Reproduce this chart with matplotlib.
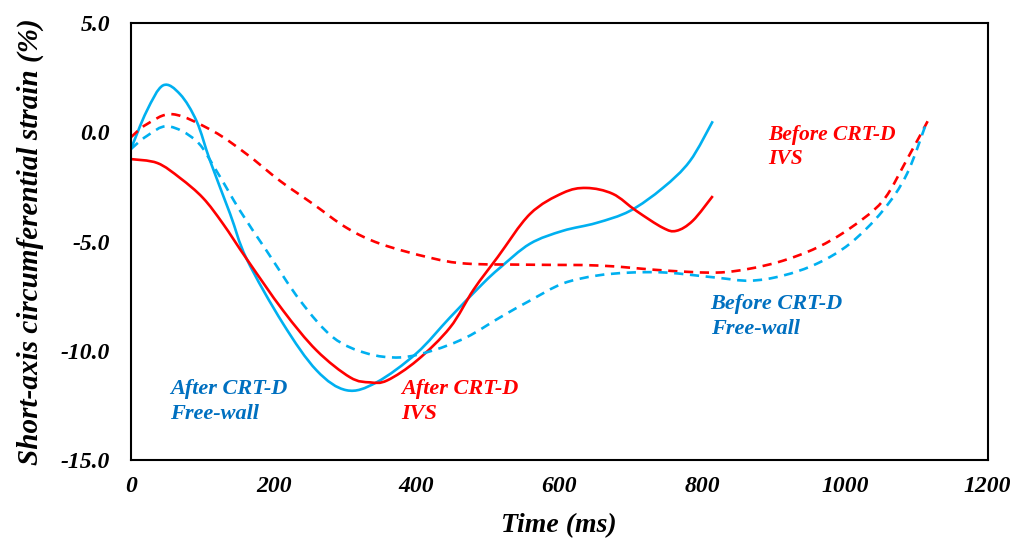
import numpy as np
import matplotlib.pyplot as plt
from matplotlib.path import Path
from matplotlib.patches import PathPatch

# After CRT-D, free-wall (solid blue)
t_after_fw = [0, 22, 45, 69, 92, 111, 139, 162, 213, 260, 302, 344, 400, 447, 493,
              517, 559, 605, 652, 699, 745, 783, 815]
v_after_fw = [-0.77, 0.96, 2.14, 1.73, 0.50, -1.32, -3.74, -5.79, -8.75, -10.89, -11.80,
              -11.44, -10.11, -8.47, -6.92, -6.20, -5.10, -4.51, -4.15, -3.60, -2.55, -1.32, 0.50]

# After CRT-D, IVS (solid red)
t_after_ivs = [0, 37, 69, 101, 129, 162, 213, 260, 307, 335, 359, 401, 447, 480, 514,
               559, 605, 638, 675, 708, 745, 764, 787, 815]
v_after_ivs = [-1.23, -1.41, -2.10, -3.01, -4.19, -5.79, -8.15, -9.98, -11.21, -11.44, -11.35,
               -10.43, -8.93, -7.20, -5.70, -3.74, -2.78, -2.55, -2.82, -3.60, -4.37, -4.51,
               -4.05, -2.92]

# Before CRT-D, IVS (dashed red)
t_before_ivs = [0, 22, 59, 115, 162, 209, 255, 302, 349, 419, 470, 559, 657, 750, 820,
                867, 913, 961, 1007, 1053, 1087, 1116]
v_before_ivs = [-0.23, 0.36, 0.82, 0.05, -1.00, -2.23, -3.28, -4.37, -5.10, -5.74, -6.01,
                -6.06, -6.10, -6.33, -6.42, -6.24, -5.88, -5.28, -4.40, -3.15, -1.25, 0.50]

# Before CRT-D, free-wall (dashed blue)
t_before_fw = [0, 22, 52, 92, 120, 153, 190, 237, 283, 330, 377, 423, 470, 517, 559,
               605, 652, 699, 750, 820, 867, 913, 961, 1007, 1053, 1087, 1115]
v_before_fw = [-0.77, -0.18, 0.27, -0.41, -1.78, -3.60, -5.42, -7.70, -9.38, -10.11, -10.30,
               -9.98, -9.38, -8.47, -7.70, -6.92, -6.56, -6.42, -6.42, -6.65, -6.79, -6.56,
               -6.01, -5.10, -3.60, -1.91, 0.50]

BLUE = '#00B0F0'
RED = '#FF0000'
TXT_BLUE = '#0070C0'

plt.rcParams['font.family'] = ['Liberation Serif', 'DejaVu Serif']


def smooth_line(ax, xs, ys, **kw):
    # Excel-like "smoothed line": cubic Bezier segments through the data points
    p = np.column_stack([xs, ys]).astype(float)
    n = len(p)
    verts = [p[0]]
    codes = [Path.MOVETO]
    for i in range(n - 1):
        p0 = p[i - 1] if i > 0 else p[i]
        p3 = p[i + 2] if i + 2 < n else p[i + 1]
        c1 = p[i] + (p[i + 1] - p0) / 6.0
        c2 = p[i + 1] - (p3 - p[i]) / 6.0
        verts += [c1, c2, p[i + 1]]
        codes += [Path.CURVE4] * 3
    patch = PathPatch(Path(verts, codes), fill=False, capstyle='butt', joinstyle='round', **kw)
    ax.add_patch(patch)
    return patch


fig = plt.figure(figsize=(10.15, 5.44), dpi=100)
ax = fig.add_axes([0.129, 0.154, 0.844, 0.804])

lw = 1.9
smooth_line(ax, t_after_fw, v_after_fw, edgecolor=BLUE, lw=lw)
smooth_line(ax, t_after_ivs, v_after_ivs, edgecolor=RED, lw=lw)
smooth_line(ax, t_before_ivs, v_before_ivs, edgecolor=RED, lw=lw, linestyle=(0, (3.5, 2.5)))
smooth_line(ax, t_before_fw, v_before_fw, edgecolor=BLUE, lw=lw, linestyle=(0, (3.5, 2.5)))

ax.set_xlim(0, 1200)
ax.set_ylim(-15, 5)
ax.set_xticks(np.arange(0, 1201, 200))
ax.set_yticks(np.arange(-15, 5.1, 5))
ax.set_yticklabels(['%.1f' % v for v in np.arange(-15, 5.1, 5)])

for sp in ax.spines.values():
    sp.set_linewidth(1.5)
    sp.set_color('black')

ax.tick_params(length=0, labelsize=17)
ax.tick_params(axis='x', pad=11)
ax.tick_params(axis='y', pad=15)
for lab in ax.get_xticklabels() + ax.get_yticklabels():
    lab.set_fontweight('bold')
    lab.set_fontstyle('italic')

ax.set_xlabel('Time (ms)', fontsize=20, fontweight='bold', fontstyle='italic', labelpad=12)
ax.set_ylabel('Short-axis circumferential strain (%)', fontsize=21, fontweight='bold',
              fontstyle='italic', labelpad=12)

tk = dict(fontsize=16, fontweight='bold', fontstyle='italic', va='top', ha='left',
          linespacing=1.3)
ax.text(55, -11.3, 'After CRT-D\nFree-wall', color=TXT_BLUE, **tk)
ax.text(378, -11.3, 'After CRT-D\nIVS', color=RED, **tk)
ax.text(893, 0.35, 'Before CRT-D\nIVS', color=RED, fontsize=15.5,
        **{k: v for k, v in tk.items() if k != 'fontsize'})
ax.text(812, -7.4, 'Before CRT-D\nFree-wall', color=TXT_BLUE, **tk)

fig.savefig('out.png', dpi=100)
